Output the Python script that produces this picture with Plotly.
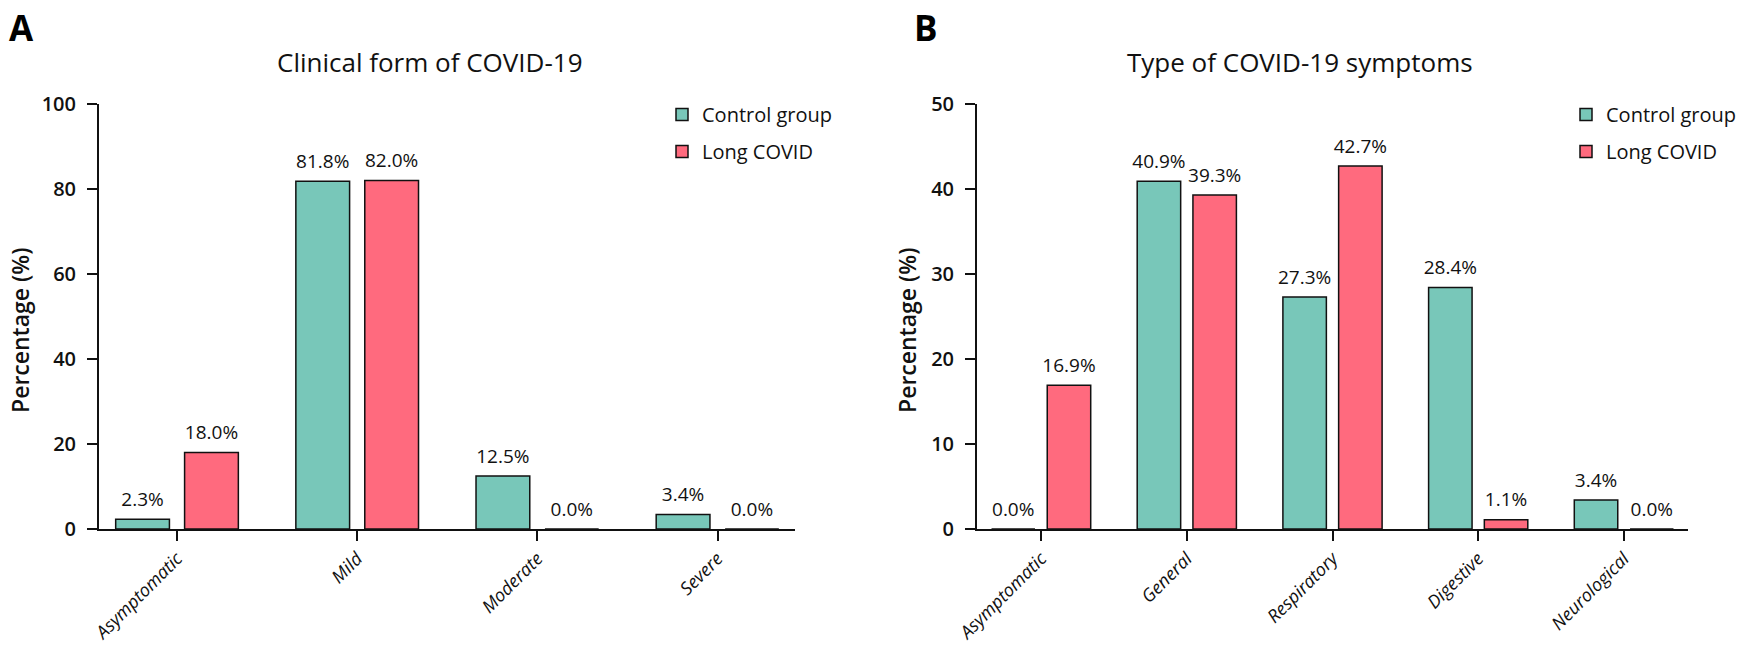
import plotly.graph_objects as go

# ---------------- data ----------------
forms = ["Asymptomatic", "Mild", "Moderate", "Severe"]
form_control = [2.3, 81.8, 12.5, 3.4]
form_long = [18.0, 82.0, 0.0, 0.0]

symptoms = ["Asymptomatic", "General", "Respiratory", "Digestive", "Neurological"]
sym_control = [0.0, 40.9, 27.3, 28.4, 3.4]
sym_long = [16.9, 39.3, 42.7, 1.1, 0.0]

series_names = ["Control group", "Long COVID"]
panel_titles = ["Clinical form of COVID-19", "Type of COVID-19 symptoms"]
panel_letters = ["A", "B"]
y_title = "Percentage (%)"

# ---------------- style ----------------
W, H = 1741, 646
TEAL = "#78C7B9"
PINK = "#FF6A7E"
FONT = "Open Sans"
BAR_LINE = dict(color="#111111", width=1.5)


def px_x(p):
    return p / W


def px_y(p):
    return 1 - p / H


fig = go.Figure()

panels = [
    dict(cats=forms, ctrl=form_control, lc=form_long, xa="x", ya="y", legend="legend"),
    dict(cats=symptoms, ctrl=sym_control, lc=sym_long, xa="x2", ya="y2", legend="legend2"),
]

for i, p in enumerate(panels):
    for name, vals, color, grp in [
        (series_names[0], p["ctrl"], TEAL, "ctrl"),
        (series_names[1], p["lc"], PINK, "lc"),
    ]:
        fig.add_trace(go.Bar(
            x=p["cats"], y=vals, name=name,
            marker=dict(color=color, line=BAR_LINE),
            xaxis=p["xa"], yaxis=p["ya"],
            offsetgroup=grp, alignmentgroup=f"g{i}",
            legend=p["legend"], legendgroup=f"{grp}{i}",
            hovertemplate="%{x}: %{y:.1f}%<extra>" + name + "</extra>",
        ))
    for name, vals, grp in [
        (series_names[0], p["ctrl"], "ctrl"),
        (series_names[1], p["lc"], "lc"),
    ]:
        fig.add_trace(go.Scatter(
            x=p["cats"], y=vals, mode="markers+text",
            text=[f"{v:.1f}%" for v in vals],
            textposition="top center",
            textfont=dict(family=FONT, size=19, color="#111111"),
            marker=dict(size=12, color="rgba(0,0,0,0)"),
            xaxis=p["xa"], yaxis=p["ya"],
            offsetgroup=grp, alignmentgroup=f"g{i}",
            showlegend=False, hoverinfo="skip", cliponaxis=False,
        ))

axis_common = dict(
    showline=True, linecolor="#111111", linewidth=2,
    ticks="outside", ticklen=10, tickwidth=2, tickcolor="#111111",
    showgrid=False, zeroline=False, automargin=False,
)

x_tickfont = dict(family=FONT, size=18, color="#111111", style="italic", weight=500)
y_tickfont = dict(family=FONT, size=20, color="#111111", weight=600)
y_titlefont = dict(family=FONT, size=23, color="#111111", weight=600)

fig.update_layout(
    width=W, height=H,
    margin=dict(l=0, r=0, t=0, b=0, autoexpand=False),
    paper_bgcolor="white", plot_bgcolor="white",
    barmode="group", bargap=0.235, bargroupgap=0.22,
    scattermode="group", scattergap=0.235,
    font=dict(family=FONT, color="#111111"),
    xaxis=dict(
        domain=[px_x(99), px_x(795)], anchor="y",
        range=[-0.433, 3.43], tickangle=-45, tickfont=x_tickfont,
        **axis_common,
    ),
    yaxis=dict(
        domain=[1 - 529 / H, 1 - 104 / H], anchor="x",
        range=[0, 100], dtick=20, tickfont=y_tickfont, ticklabelstandoff=7,
        **axis_common,
    ),
    xaxis2=dict(
        domain=[px_x(977), px_x(1688)], anchor="y2",
        range=[-0.44, 4.44], tickangle=-45, tickfont=x_tickfont,
        **axis_common,
    ),
    yaxis2=dict(
        domain=[1 - 529 / H, 1 - 104 / H], anchor="x2",
        range=[0, 50], dtick=10, tickfont=y_tickfont, ticklabelstandoff=7,
        **axis_common,
    ),
    legend=dict(
        x=px_x(662), y=px_y(95), xanchor="left", yanchor="top",
        font=dict(family=FONT, size=20, color="#111111"),
        traceorder="grouped", tracegroupgap=8, bgcolor="rgba(0,0,0,0)",
    ),
    legend2=dict(
        x=px_x(1566), y=px_y(95), xanchor="left", yanchor="top",
        font=dict(family=FONT, size=20, color="#111111"),
        traceorder="grouped", tracegroupgap=8, bgcolor="rgba(0,0,0,0)",
    ),
    showlegend=True,
)

annotations = []
for title, cx in zip(panel_titles, [430, 1300]):
    annotations.append(dict(
        text=title, x=px_x(cx), y=px_y(62), xref="paper", yref="paper",
        xanchor="center", yanchor="middle", showarrow=False,
        font=dict(family=FONT, size=26, color="#111111"),
    ))
for letter, lx in zip(panel_letters, [7, 912]):
    annotations.append(dict(
        text=letter, x=px_x(lx), y=px_y(27), xref="paper", yref="paper",
        xanchor="left", yanchor="middle", showarrow=False,
        font=dict(family=FONT, size=35, color="#000000", weight=700),
    ))
for cx in [20, 907]:
    annotations.append(dict(
        text=y_title, x=px_x(cx), y=px_y(331), xref="paper", yref="paper",
        xanchor="center", yanchor="middle", textangle=-90, showarrow=False,
        font=y_titlefont,
    ))
fig.update_layout(annotations=annotations)

fig.write_html("out.html")
